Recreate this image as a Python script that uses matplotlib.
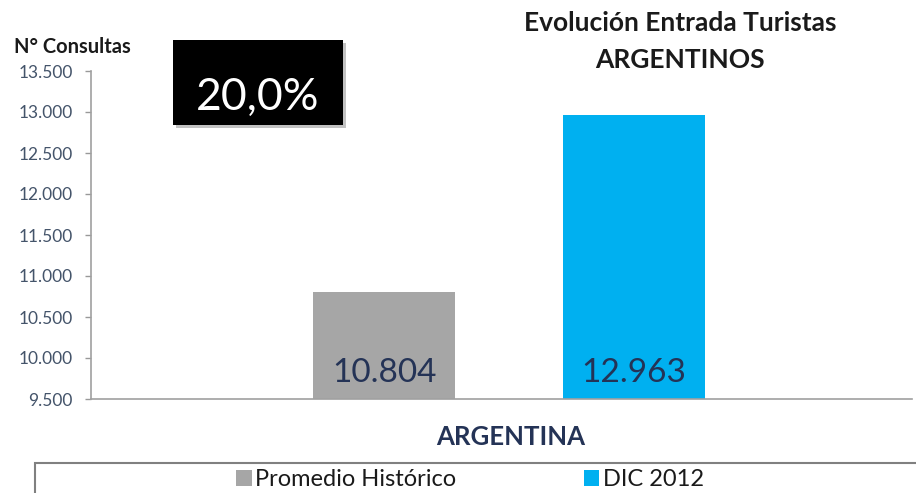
import matplotlib.pyplot as plt
from matplotlib.patches import Rectangle

categories = ['ARGENTINA']
series_names = ['Promedio Histórico', 'DIC 2012']
series_values = [[10804], [12963]]
series_colors = ['#a6a6a6', '#00b0f0']
y_ticks = [9500, 10000, 10500, 11000, 11500, 12000, 12500, 13000, 13500]
change_label = '20,0%'

plt.rcParams['font.family'] = ['Lato', 'DejaVu Sans']
navy = '#243356'

fig = plt.figure(figsize=(9.16, 4.93), dpi=100)
ax = fig.add_axes([91 / 916, 1 - 399 / 493, 821 / 916, 328 / 493])

offsets = [-0.152, 0.152]
width = 0.173
for name, vals, col, off in zip(series_names, series_values, series_colors, offsets):
    xs = [i + off for i in range(len(categories))]
    ax.bar(xs, [v - y_ticks[0] for v in vals], bottom=y_ticks[0],
           width=width, color=col, label=name)
    for x, v in zip(xs, vals):
        ax.annotate(f'{v:,}'.replace(',', '.'), (x, y_ticks[0]),
                    xytext=(0, 12), textcoords='offset points',
                    ha='center', va='baseline', fontsize=24, color=navy)

ax.set_xlim(-0.509, 0.491)
ax.set_ylim(y_ticks[0], y_ticks[-1])
ax.set_yticks(y_ticks)
ax.set_yticklabels([f'{t:,}'.replace(',', '.') for t in y_ticks])
ax.set_xticks([])
ax.tick_params(axis='y', labelsize=12.5, labelcolor='#44546a', color='#999999',
               length=4, width=1, pad=9)
for s in ['top', 'right']:
    ax.spines[s].set_visible(False)
for s in ['left', 'bottom']:
    ax.spines[s].set_color('#a0a0a0')
    ax.spines[s].set_linewidth(1.2)

fig.text(511 / 916, 1 - 437 / 493, categories[0], ha='center', va='center',
         fontsize=18.5, fontweight='bold', color=navy)

fig.text(14 / 916, 1 - 47 / 493, 'N° Consultas', ha='left', va='center',
         fontsize=14.5, fontweight='bold', color='#1a1a1a')

fig.text(680 / 916, 1 - 23 / 493, 'Evolución Entrada Turistas', ha='center',
         va='center', fontsize=19, fontweight='bold', color='#1a1a1a')
fig.text(680 / 916, 1 - 60 / 493, 'ARGENTINOS', ha='center',
         va='center', fontsize=19, fontweight='bold', color='#1a1a1a')

# black box with the growth figure
fig.patches.append(Rectangle((176 / 916, 1 - 128 / 493), 170 / 916, 85 / 493,
                             transform=fig.transFigure, facecolor='#9a9a9a',
                             edgecolor='none', alpha=0.6, zorder=1))
fig.patches.append(Rectangle((173 / 916, 1 - 125 / 493), 170 / 916, 85 / 493,
                             transform=fig.transFigure, facecolor='black',
                             edgecolor='none', zorder=2))
fig.text(258 / 916, 1 - 97 / 493, change_label, ha='center', va='center',
         fontsize=32, color='white', zorder=3)

# legend frame
fig.patches.append(Rectangle((35 / 916, -0.05), 0.97, 0.05 + 30 / 493,
                             transform=fig.transFigure, facecolor='white',
                             edgecolor='#808080', linewidth=1.5, clip_on=False))
fig.legend(loc='center', bbox_to_anchor=(470 / 916, 1 - 480 / 493), ncol=2,
           frameon=False, fontsize=17, handlelength=0.65, handleheight=0.65,
           handletextpad=0.15, columnspacing=5.4, labelcolor='#1a1a1a')

fig.savefig('out.png', dpi=100)
